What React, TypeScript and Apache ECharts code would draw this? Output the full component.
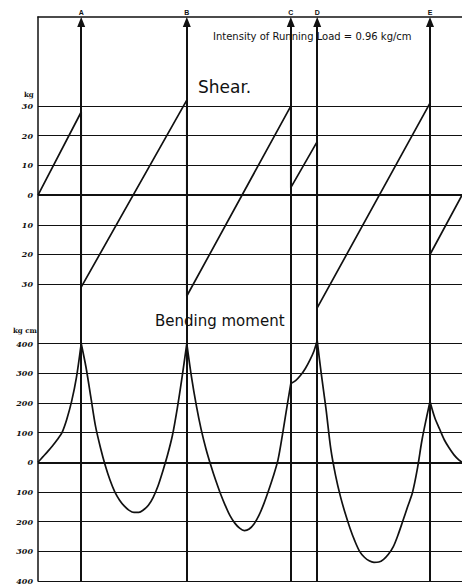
import React, { useEffect, useRef } from "react";
import * as echarts from "echarts";

// x positions in cm along the beam
const supportNames = ["A", "B", "C", "D", "E"];
const supportX = [27, 93, 158, 174.5, 245];
const beamEnd = 265;

// Shear (kg) — straight segments with jumps at supports
const shearPoints: [number, number][] = [
  [0, 0], [27, 28], [27, -31], [93, 32], [93, -34], [158, 30],
  [158, 2.5], [174.5, 18], [174.5, -38], [245, 31], [245, -20], [265, 0],
];

// Bending moment (kg·cm), one array per span
const momentOA: [number, number][] = [
  [0, 0], [3, 18], [6, 36], [9, 55], [12, 76], [15, 100], [18, 145],
  [21, 205], [24, 285], [27, 400],
];
const momentAB: [number, number][] = [
  [27, 400], [30, 320], [33, 220], [36, 120], [39, 50], [42, -10], [45, -60],
  [48, -100], [51, -128], [54, -148], [57, -162], [60, -169], [63, -169],
  [66, -160], [69, -145], [72, -118], [75, -80], [78, -30], [81, 25],
  [84, 90], [87, 180], [90, 285], [93, 400],
];
const momentBC: [number, number][] = [
  [93, 400], [96, 285], [99, 190], [102, 110], [105, 45], [108, -10],
  [111, -60], [114, -105], [117, -145], [120, -180], [123, -205], [126, -222],
  [129, -230], [132, -225], [135, -208], [138, -180], [141, -142], [144, -97],
  [147, -48], [150, 8], [153, 100], [156, 200], [158, 265],
];
const momentCD: [number, number][] = [
  [158, 265], [161, 275], [164, 292], [167, 315], [170, 345], [172.5, 375],
  [174.5, 410],
];
const momentDE: [number, number][] = [
  [174.5, 410], [177, 300], [180, 180], [183, 45], [186, -45], [189, -115],
  [192, -172], [195, -222], [198, -265], [201, -300], [204, -320], [207, -332],
  [210, -337], [213, -336], [216, -327], [219, -310], [222, -285], [225, -245],
  [228, -198], [231, -150], [234, -103], [237, -25], [240, 75], [243, 155],
  [245, 205],
];
const momentEnd: [number, number][] = [
  [245, 205], [248, 150], [251, 112], [254, 75], [257, 48], [260, 25],
  [263, 8], [265, 0],
];

const shearTicks = [30, 20, 10, 0, -10, -20, -30];
const momentTicks = [400, 300, 200, 100, 0, -100, -200, -300, -400];

const INK = "#111";
const M_MIN = -400;
const M_MAX = 1500;

export default function App() {
  const ref = useRef<HTMLDivElement>(null);
  useEffect(() => {
    document.body.style.margin = "0";
    if (!ref.current) return;
    const chart = echarts.init(ref.current, null, { renderer: "svg" });
    const gridLine = (v: number) => ({
      yAxis: v,
      lineStyle: { width: v === 0 ? 1.8 : 1.2, color: INK, type: "solid" },
    });
    const curve = (data: [number, number][], extra: object = {}) => ({
      type: "line",
      xAxisIndex: 0,
      yAxisIndex: 1,
      data,
      smooth: 0.3,
      symbol: "none",
      lineStyle: { color: INK, width: 1.7 },
      z: 5,
      ...extra,
    });
    const labelStyle = {
      fontSize: 8,
      fontWeight: "bold",
      fontStyle: "italic",
      fontFamily: "DejaVu Serif",
      color: INK,
      margin: 5,
    };
    chart.setOption({
      animation: false,
      backgroundColor: "#fff",
      grid: { left: 38, right: 0, top: 17, bottom: 2, containLabel: false },
      xAxis: {
        type: "value",
        min: 0,
        max: beamEnd,
        position: "top",
        axisLine: { show: true, onZero: false, lineStyle: { color: INK, width: 1.6 } },
        axisTick: { show: false },
        axisLabel: { show: false },
        splitLine: { show: false },
      },
      yAxis: [
        {
          type: "value",
          min: -130,
          max: 60,
          interval: 10,
          position: "left",
          axisLine: { show: true, onZero: false, lineStyle: { color: INK, width: 1.5 } },
          axisTick: { show: false },
          splitLine: { show: false },
          axisLabel: {
            ...labelStyle,
            formatter: (v: number) => (shearTicks.includes(v) ? String(Math.abs(v)) : ""),
          },
        },
        {
          type: "value",
          min: M_MIN,
          max: M_MAX,
          interval: 100,
          position: "left",
          axisLine: { show: false },
          axisTick: { show: false },
          splitLine: { show: false },
          axisLabel: {
            ...labelStyle,
            formatter: (v: number) => (momentTicks.includes(v) ? String(Math.abs(v)) : ""),
          },
        },
      ],
      series: [
        {
          type: "line",
          xAxisIndex: 0,
          yAxisIndex: 0,
          data: shearPoints,
          symbol: "none",
          lineStyle: { color: INK, width: 1.7 },
          z: 5,
          markLine: {
            silent: true,
            symbol: "none",
            label: { show: false },
            data: shearTicks.map(gridLine),
          },
        },
        curve(momentOA, {
          markLine: {
            silent: true,
            symbol: "none",
            label: { show: false },
            data: momentTicks.map(gridLine),
          },
        }),
        curve(momentAB),
        curve(momentBC),
        curve(momentCD),
        curve(momentDE),
        curve(momentEnd, {
          markLine: {
            silent: true,
            symbol: ["triangle", "none"],
            symbolSize: [8, 10],
            lineStyle: { width: 2, color: INK, type: "solid" },
            label: {
              show: true,
              position: "start",
              fontSize: 7,
              fontWeight: "bold",
              color: INK,
              distance: 6,
              formatter: (p: any) => p.name,
            },
            data: supportX.map((x, i) => [
              { coord: [x, M_MAX - 17], name: supportNames[i] },
              { coord: [x, M_MIN] },
            ]),
          },
        }),
      ],
      graphic: [
        {
          type: "text",
          left: 213,
          top: 31,
          style: {
            text: "Intensity of Running Load = 0.96 kg/cm",
            fontSize: 10,
            fontFamily: "DejaVu Sans",
            fill: INK,
          },
        },
        {
          type: "text",
          left: 198,
          top: 78,
          style: { text: "Shear.", fontSize: 17, fontFamily: "DejaVu Sans", fill: INK },
        },
        {
          type: "text",
          left: 155,
          top: 313,
          style: { text: "Bending moment", fontSize: 15, fontFamily: "DejaVu Sans", fill: INK },
        },
        {
          type: "text",
          left: 24,
          top: 91,
          style: { text: "kg", fontSize: 7, fontWeight: "bold", fontFamily: "DejaVu Serif", fill: INK },
        },
        {
          type: "text",
          left: 13,
          top: 327,
          style: { text: "kg cm", fontSize: 7, fontWeight: "bold", fontFamily: "DejaVu Serif", fill: INK },
        },
      ],
    });
    return () => chart.dispose();
  }, []);
  return <div ref={ref} style={{ width: 462, height: 585 }} />;
}
